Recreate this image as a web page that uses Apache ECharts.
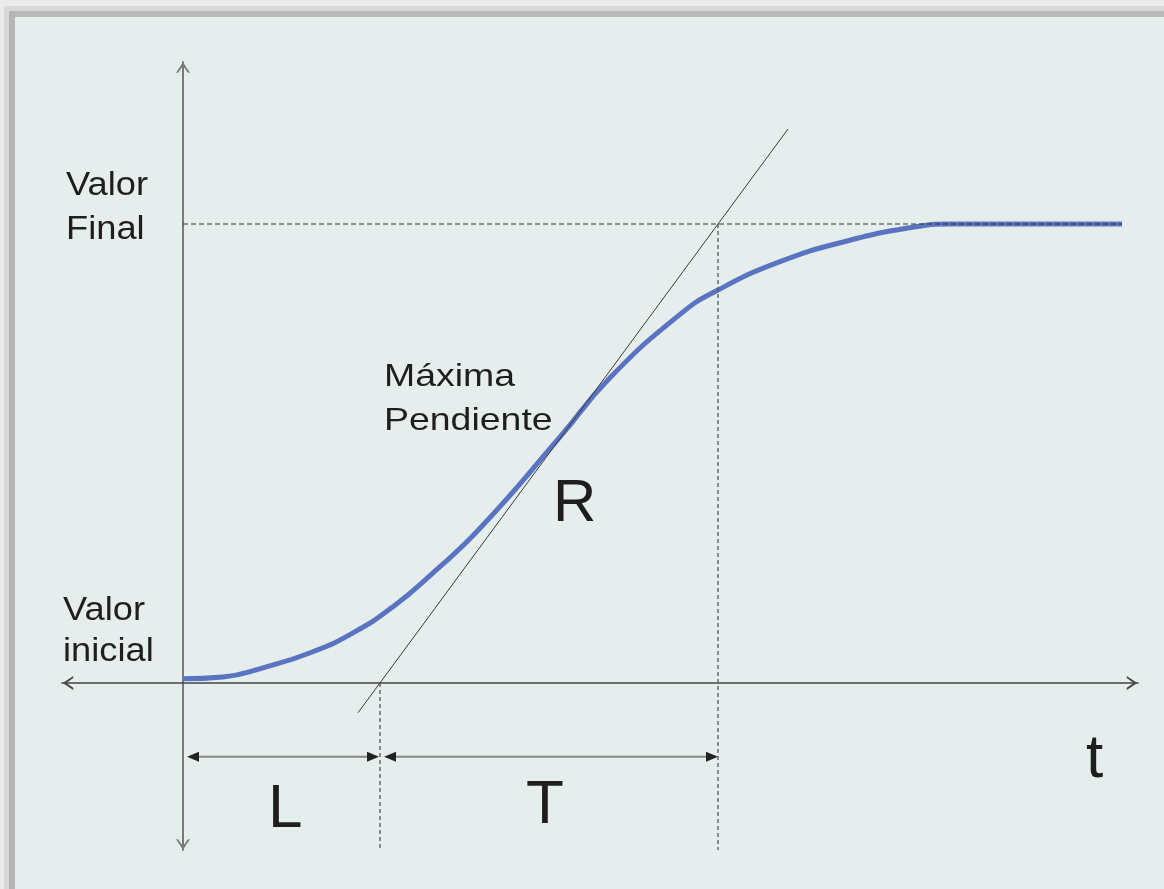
<!DOCTYPE html>
<html>
<head>
<meta charset="utf-8">
<title>Curva de reacción</title>
<script src="https://cdn.jsdelivr.net/npm/echarts@6/dist/echarts.min.js"></script>
<style>
    html, body { margin: 0; padding: 0; }
    #chart-pane { width: 1164px; height: 889px; }
</style>
</head>
<body>
<div id="chart-pane"></div>
<script>
(function() {
    "use strict";

    // respuesta del proceso (t en unidades arbitrarias, y normalizada 0..1)
    var curveT = [0, 0.40, 0.80, 1.30, 1.70, 2.10, 2.50, 2.97, 3.77, 4.27, 4.97, 5.34, 5.97, 6.64, 7.30, 7.67, 8.40, 9.39];
    var curveY = [0.009, 0.013, 0.033, 0.068, 0.109, 0.166, 0.240, 0.337, 0.536, 0.665, 0.803, 0.855, 0.918, 0.963, 0.993, 1.0, 1.0, 1.0];

    // recta de máxima pendiente
    var tangentT = [1.75, 6.05];
    var tangentY = [-0.065, 1.207];

    // valores característicos
    var initialValue = 0;
    var finalValue = 1;
    var finalEndT = 9.39;
    var deadTimeEnd = 1.97;     // L
    var lagEnd = 5.35;          // L + T

    // cotas L y T
    var dimY = -0.161;
    var dimL = [0.10, 1.90];
    var dimT = [2.07, 5.29];

    // extremos de los ejes
    var xRange = [-1.21, 9.55];
    var yRange = [-0.364, 1.353];

    function pairs(xs, ys) {
        var out = [];
        for (var i = 0; i < xs.length; i++) out.push([xs[i], ys[i]]);
        return out;
    }

    var chevron = 'path://M6,0 L12,9 L10.2,9 L6,3 L1.8,9 L0,9 Z';
    var font = '"Liberation Sans", Arial, sans-serif';
    var textColor = '#1e1e1e';

    function label(text, x, y, size, lineHeight, scaleX) {
        return {
            type: 'text',
            x: x,
            y: y,
            scaleX: scaleX || 1,
            z: 10,
            style: {
                text: text,
                fill: textColor,
                font: size + 'px ' + font,
                lineHeight: lineHeight,
                verticalAlign: 'top'
            }
        };
    }

    function dimArrow(range) {
        return {
            type: 'line',
            silent: true,
            symbol: 'triangle',
            symbolSize: [10, 12],
            itemStyle: { color: '#222' },
            lineStyle: { color: '#888', width: 2 },
            data: [
                { value: [range[0], dimY], symbolRotate: 90 },
                { value: [range[1], dimY], symbolRotate: -90 }
            ],
            z: 4
        };
    }

    var chartDom = document.getElementById('chart-pane');
    var chart = echarts.init(chartDom, null, { renderer: 'canvas' });
    var option = {
        animation: false,
        backgroundColor: '#e6eeed',
        grid: { left: 62, right: 26, top: 62, bottom: 39 },
        xAxis: {
            type: 'value',
            min: xRange[0],
            max: xRange[1],
            axisLine: {
                onZero: true,
                symbol: [chevron, chevron],
                symbolSize: [14, 12],
                symbolOffset: [6, -6],
                lineStyle: { color: '#444', width: 1.5 }
            },
            axisTick: { show: false },
            axisLabel: { show: false },
            splitLine: { show: false }
        },
        yAxis: {
            type: 'value',
            min: yRange[0],
            max: yRange[1],
            axisLine: {
                onZero: true,
                symbol: [chevron, chevron],
                symbolSize: [14, 11],
                symbolOffset: [5.5, -5.5],
                lineStyle: { color: '#7a7a7a', width: 2 }
            },
            axisTick: { show: false },
            axisLabel: { show: false },
            splitLine: { show: false }
        },
        graphic: [
            // marco gris arriba y a la izquierda
            { type: 'rect', z: -1, shape: { x: 0, y: 0, width: 1164, height: 6 }, style: { fill: '#ebebeb' } },
            { type: 'rect', z: -1, shape: { x: 0, y: 6, width: 1164, height: 5 }, style: { fill: '#d8d8d8' } },
            { type: 'rect', z: -1, shape: { x: 0, y: 11, width: 1164, height: 6 }, style: { fill: '#b9b9b9' } },
            { type: 'rect', z: -1, shape: { x: 0, y: 0, width: 4, height: 889 }, style: { fill: '#ececec' } },
            { type: 'rect', z: -1, shape: { x: 4, y: 6, width: 5, height: 883 }, style: { fill: '#d8d8d8' } },
            { type: 'rect', z: -1, shape: { x: 9, y: 11, width: 6, height: 878 }, style: { fill: '#b5b5b5' } },

            label('Valor\nFinal', 66, 164, 33, 44, 1.1),
            label('Valor\ninicial', 63, 590, 33, 41, 1.1),
            label('Máxima\nPendiente', 384, 355, 32, 44, 1.17),
            label('R', 553, 474, 60, 60),
            label('L', 268, 779, 62, 62),
            label('T', 526, 775, 62, 62),
            label('t', 1086, 729, 62, 62)
        ],
        series: [
            {
                name: 'respuesta',
                type: 'line',
                silent: true,
                symbol: 'none',
                smooth: 0.5,
                lineStyle: { color: '#5a74c2', width: 5 },
                data: pairs(curveT, curveY),
                z: 3
            },
            {
                name: 'pendiente',
                type: 'line',
                silent: true,
                symbol: 'none',
                lineStyle: { color: '#3a3a3a', width: 1 },
                data: pairs(tangentT, tangentY),
                z: 4
            },
            {
                name: 'valor final',
                type: 'line',
                silent: true,
                symbol: 'none',
                lineStyle: { color: '#333', width: 1.2, type: [5, 3] },
                data: [[0, finalValue], [finalEndT, finalValue]],
                z: 4
            },
            {
                name: 'fin L',
                type: 'line',
                silent: true,
                symbol: 'none',
                lineStyle: { color: '#555', width: 1.3, type: [4, 3] },
                data: [[deadTimeEnd, initialValue], [deadTimeEnd, yRange[0]]],
                z: 4
            },
            {
                name: 'fin T',
                type: 'line',
                silent: true,
                symbol: 'none',
                lineStyle: { color: '#555', width: 1.3, type: [4, 3] },
                data: [[lagEnd, finalValue], [lagEnd, yRange[0]]],
                z: 4
            },
            dimArrow(dimL),
            dimArrow(dimT)
        ]
    };

    chart.setOption(option);
})();
</script>
</body>
</html>
